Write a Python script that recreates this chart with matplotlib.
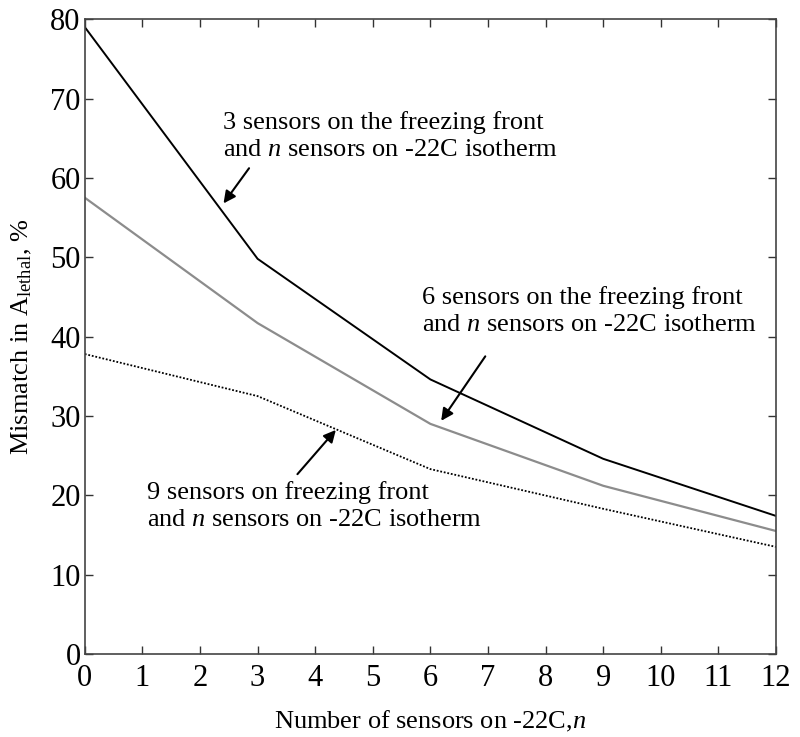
import matplotlib
matplotlib.use('Agg')
import matplotlib.pyplot as plt
import numpy as np

plt.rcParams['font.family'] = ['Liberation Serif', 'DejaVu Serif']
plt.rcParams['mathtext.fontset'] = 'custom'
plt.rcParams['mathtext.rm'] = 'Liberation Serif'
plt.rcParams['mathtext.it'] = 'Liberation Serif:italic'

n_sensors = [0, 3, 6, 9, 12]
mismatch_3 = [79.0, 49.8, 34.6, 24.6, 17.4]
mismatch_6 = [57.5, 41.7, 29.0, 21.2, 15.5]
mismatch_9 = [37.8, 32.5, 23.3, 18.3, 13.5]

fig = plt.figure(figsize=(8, 7.37), dpi=100)
ax = fig.add_axes([0.106, 0.1126, 0.864, 0.8614])

ax.plot(n_sensors, mismatch_3, color='black', linewidth=1.4)
ax.plot(n_sensors, mismatch_6, color='#8c8c8c', linewidth=1.6)
ax.plot(n_sensors, mismatch_9, color='black', linewidth=1.3, linestyle=(0, (1, 1)))

ax.set_xlim(0, 12)
ax.set_ylim(0, 80)
ax.set_xticks(np.arange(0, 13, 1))
ax.set_yticks(np.arange(0, 81, 10))
ax.tick_params(direction='in', top=True, right=True, labelsize=22, length=6, width=1,
               colors='#333333', pad=3)
ax.tick_params(axis='x', pad=7)
for lbl in ax.get_xticklabels() + ax.get_yticklabels():
    lbl.set_color('black')
for s in ax.spines.values():
    s.set_color('#444444')
    s.set_linewidth(1.2)

ax.set_xlabel('Number of sensors on -22C,$\\it{n}$', fontsize=19, labelpad=12)
ax.set_ylabel('Mismatch in A$_{\\mathrm{lethal}}$, %', fontsize=19, labelpad=12)

arrow = dict(arrowstyle='-|>', color='black', lw=1.5, mutation_scale=18)
txt = dict(fontsize=19, ha='left', va='center', linespacing=1.3)
ax.text(2.4, 65.3, '3 sensors on the freezing front\nand $\\it{n}$ sensors on -22C isotherm', **txt)
ax.annotate('', xy=(2.38, 56.5), xytext=(2.88, 61.5), arrowprops=arrow)

ax.text(5.85, 43.2, '6 sensors on the freezing front\nand $\\it{n}$ sensors on -22C isotherm', **txt)
ax.annotate('', xy=(6.16, 29.1), xytext=(6.98, 37.8), arrowprops=arrow)

ax.text(1.08, 18.6, '9 sensors on freezing front\nand $\\it{n}$ sensors on -22C isotherm', **txt)
ax.annotate('', xy=(4.39, 28.5), xytext=(3.66, 22.4), arrowprops=arrow)

fig.savefig('out.png', dpi=100)
